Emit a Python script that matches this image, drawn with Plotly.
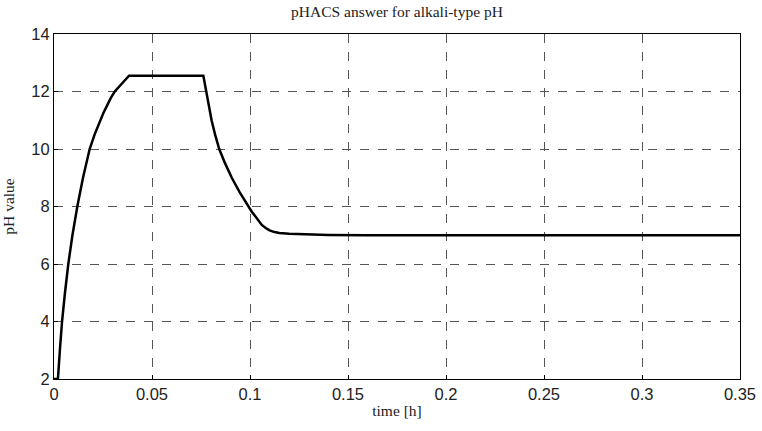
import plotly.graph_objects as go

time_h = [0, 0.0020, 0.0030, 0.0041, 0.0056, 0.0073, 0.0094, 0.0119, 0.0148, 0.0182,
          0.0207, 0.0235, 0.0252, 0.0270, 0.0290, 0.0310, 0.0383,
          0.0762, 0.0770, 0.0780, 0.0791, 0.0804, 0.0822, 0.0843, 0.0873, 0.0907,
          0.0947, 0.0991, 0.1009, 0.1026, 0.1043, 0.1060, 0.1080, 0.1100, 0.1125,
          0.1150, 0.1200, 0.1280, 0.1400, 0.1600, 0.2, 0.25, 0.3, 0.35]
ph_value = [2.0, 2.0, 3.0, 4.0, 5.0, 6.0, 7.0, 8.0, 9.0, 10.0,
            10.5, 11.0, 11.25, 11.5, 11.78, 12.0, 12.55,
            12.55, 12.25, 12.0, 11.5, 11.0, 10.5, 10.0, 9.5, 9.0,
            8.5, 8.0, 7.82, 7.67, 7.5, 7.36, 7.25, 7.17, 7.11,
            7.08, 7.05, 7.03, 7.01, 7.0, 7.0, 7.0, 7.0, 7.0]

x_ticks = [0, 0.05, 0.1, 0.15, 0.2, 0.25, 0.3, 0.35]
x_tick_labels = ["0", "0.05", "0.1", "0.15", "0.2", "0.25", "0.3", "0.35"]
y_ticks = [2, 4, 6, 8, 10, 12, 14]

fig = go.Figure()
fig.add_trace(go.Scatter(x=time_h, y=ph_value, mode="lines",
                         line=dict(color="black", width=2.5),
                         showlegend=False))

axis_common = dict(showline=True, linecolor="black", linewidth=1, mirror=True,
                   showgrid=True, gridcolor="#555555", griddash="dash", gridwidth=1,
                   zeroline=False, ticks="inside", ticklen=4, tickcolor="black",
                   automargin=False,
                   tickfont=dict(family="Liberation Sans, Arial", size=16.5, color="#222"))

serif = "Liberation Serif, Times New Roman"

fig.update_layout(
    width=762, height=431,
    margin=dict(l=54, r=22, t=34, b=52),
    plot_bgcolor="white", paper_bgcolor="white",
    title=dict(text="pHACS answer for alkali-type pH", x=0.521, xanchor="center",
               y=0.972, yanchor="middle",
               font=dict(family=serif, size=15.5, color="#222")),
    xaxis=dict(range=[0, 0.35], tickvals=x_ticks, ticktext=x_tick_labels,
               title=dict(text="time [h]", standoff=3,
                          font=dict(family=serif, size=15.5, color="#222")),
               **axis_common),
    yaxis=dict(range=[2, 14], tickvals=y_ticks,
               title=dict(text="pH value", standoff=12,
                          font=dict(family=serif, size=15.5, color="#222")),
               **axis_common),
)

fig.write_html("out.html", config={"displayModeBar": False},
               post_script="document.body.style.margin='0';")
